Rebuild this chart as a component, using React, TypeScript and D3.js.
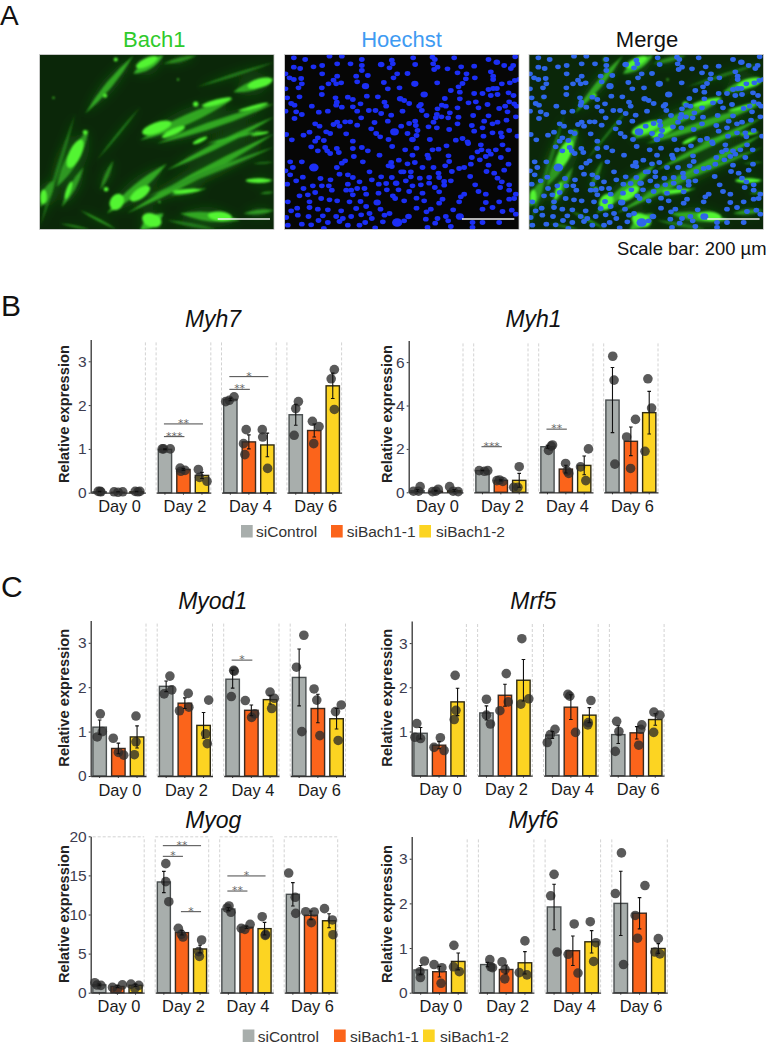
import { useEffect, useRef } from 'react';
import * as d3 from 'd3';

const days = ['Day 0', 'Day 2', 'Day 4', 'Day 6'];
const groups = ['siControl', 'siBach1-1', 'siBach1-2'];
const groupColors = ['#a8aeac', '#fb641b', '#fcd422'];
const groupStrokes = ['#4a4f50', '#3a2a20', '#2e2a14'];

type Dot = [number, number]; // value, jitter in bar widths
type Sig = [number, number, number, number, string]; // day, from bar, to bar, value, label

// bars run day by day, three per day
const myh7Means = [0.02, 0.01, 0.02, 0.99, 0.53, 0.395, 2.13, 1.16, 1.09, 1.78, 1.42, 2.44];
const myh7Errors = [0.01, 0.01, 0.01, 0.01, 0.02, 0.07, 0.03, 0.16, 0.27, 0.24, 0.15, 0.29];
const myh7Dots: Dot[][] = [
  [[0.03, -0.1], [0.03, 0.05], [0.02, 0.1]],
  [[0.02, -0.3], [0.02, 0.35], [0.01, 0]],
  [[0.03, -0.1], [0.02, 0.1], [0.03, 0.25]],
  [[1.0, -0.2], [1.0, -0.1], [1.0, 0.4]],
  [[0.56, -0.25], [0.49, -0.2], [0.51, 0.12]],
  [[0.53, -0.27], [0.35, -0.18], [0.26, 0.38]],
  [[2.08, -0.35], [2.11, -0.08], [2.19, 0.28]],
  [[1.44, -0.2], [1.12, -0.4], [0.87, -0.3]],
  [[1.44, -0.38], [1.27, -0.35], [0.555, 0.02]],
  [[2.08, 0.2], [1.92, 0], [1.31, -0.12]],
  [[1.63, -0.14], [1.51, 0.36], [1.12, -0.04]],
  [[2.81, 0.12], [2.6, -0.12], [1.9, 0.12]],
];
const myh7Sig: Sig[] = [
  [1, 0, 1, 1.28, '***'],
  [1, 0, 2, 1.57, '**'],
  [2, 0, 1, 2.36, '**'],
  [2, 0, 2, 2.65, '*'],
];

const myh1Means = [0.07, 0.05, 0.07, 1.0, 0.55, 0.55, 2.1, 1.07, 1.24, 4.25, 2.35, 3.67];
const myh1Errors = [0.06, 0.04, 0.06, 0.01, 0.03, 0.32, 0.07, 0.18, 0.43, 1.5, 0.66, 0.98];
const myh1Dots: Dot[][] = [
  [[0.26, 0.2], [0.05, -0.3], [0.05, 0.08]],
  [[0.14, 0.18], [0.03, -0.25], [0.05, 0]],
  [[0.26, -0.35], [0.05, -0.08], [0.03, 0.3]],
  [[1.0, -0.25], [0.97, 0.15], [1.0, 0.4]],
  [[0.54, -0.3], [0.57, -0.1], [0.5, 0.15]],
  [[1.18, 0], [0.23, -0.42], [0.23, -0.1]],
  [[2.18, 0.38], [1.93, 0.08], [2.13, 0.28]],
  [[1.33, -0.02], [0.87, 0.22], [0.98, 0.1]],
  [[2.0, 0.32], [1.17, -0.28], [0.54, 0.12]],
  [[6.27, 0.02], [5.17, 0.12], [1.3, 0.18]],
  [[3.36, 0.35], [2.55, -0.32], [1.1, -0.02]],
  [[5.23, -0.1], [3.88, 0.18], [1.89, -0.32]],
];
const myh1Sig: Sig[] = [
  [1, 0, 1, 2.1, '***'],
  [2, 0, 1, 2.91, '**'],
];

const myod1Means = [1.1, 0.62, 0.88, 2.02, 1.64, 1.14, 2.18, 1.48, 1.72, 2.22, 1.52, 1.29];
const myod1Errors = [0.16, 0.12, 0.25, 0.12, 0.12, 0.29, 0.2, 0.12, 0.1, 0.64, 0.32, 0.23];
const myod1Dots: Dot[][] = [
  [[1.4, 0.05], [1.0, 0.2], [0.88, -0.18]],
  [[0.85, -0.38], [0.53, 0], [0.47, 0.4]],
  [[1.35, -0.08], [0.77, -0.08], [0.48, -0.2]],
  [[2.25, 0.28], [1.94, 0.42], [1.85, -0.15]],
  [[1.86, 0.25], [1.55, 0.3], [1.47, -0.4]],
  [[1.71, 0.38], [0.95, 0.15], [0.73, 0.28]],
  [[2.38, 0.08], [2.36, 0.12], [1.79, -0.1]],
  [[1.7, -0.45], [1.4, 0.25], [1.32, 0.02]],
  [[1.89, 0], [1.75, 0.32], [1.52, 0.12]],
  [[3.17, 0.35], [2.45, -0.2], [1.0, 0.2]],
  [[1.96, -0.28], [1.71, -0.08], [0.91, 0.15]],
  [[1.6, 0.35], [1.45, -0.08], [0.8, 0.12]],
];
const myod1Sig: Sig[] = [[2, 0, 1, 2.61, '*']];

const mrf5Means = [0.96, 0.69, 1.67, 1.42, 1.82, 2.16, 0.92, 1.55, 1.37, 0.93, 0.97, 1.27];
const mrf5Errors = [0.13, 0.08, 0.31, 0.16, 0.25, 0.47, 0.08, 0.28, 0.17, 0.2, 0.14, 0.13];
const mrf5Dots: Dot[][] = [
  [[1.18, -0.28], [0.87, -0.42], [0.84, 0]],
  [[0.86, 0.1], [0.64, -0.38], [0.57, 0.38]],
  [[2.27, -0.18], [1.48, -0.12], [1.27, -0.25]],
  [[1.73, 0], [1.37, 0], [1.17, 0.3]],
  [[2.31, 0.1], [1.67, 0.25], [1.47, -0.38]],
  [[3.1, -0.12], [1.74, 0.4], [1.62, -0.2]],
  [[1.05, 0.2], [0.93, -0.15], [0.75, -0.38]],
  [[1.84, -0.22], [1.8, -0.08], [0.98, 0.35]],
  [[1.7, 0.12], [1.2, -0.08], [1.15, -0.12]],
  [[1.23, -0.12], [1.0, 0.05], [0.55, -0.22]],
  [[1.15, 0.38], [1.05, 0.3], [0.69, 0.15]],
  [[1.44, -0.1], [1.37, 0.35], [0.98, -0.12]],
];

const myogMeans = [1.0, 0.8, 0.95, 14.16, 7.68, 5.59, 10.7, 8.36, 8.19, 12.58, 9.9, 9.2];
const myogErrors = [0.12, 0.15, 0.15, 1.36, 0.3, 0.5, 0.2, 0.15, 0.8, 1.5, 0.55, 0.9];
const myogDots: Dot[][] = [
  [[1.28, -0.35], [0.98, -0.18], [0.94, 0.12]],
  [[0.68, -0.38], [0.43, 0], [1.0, 0.38]],
  [[1.1, -0.35], [0.55, -0.05], [0.94, 0.25]],
  [[16.5, 0.15], [14.2, 0.15], [11.64, 0.38]],
  [[8.23, -0.28], [7.46, -0.05], [7.12, 0.08]],
  [[6.74, 0.12], [5.25, -0.1], [4.65, -0.05]],
  [[11.09, 0.05], [10.83, -0.1], [10.28, 0.2]],
  [[8.23, -0.4], [8.1, -0.12], [8.74, 0.28]],
  [[9.72, -0.18], [7.46, 0.08], [7.33, 0.05]],
  [[15.3, -0.32], [12.2, 0.18], [10.15, 0.22]],
  [[10.36, -0.4], [10.32, 0.25], [8.96, 0.03]],
  [[10.75, -0.35], [9.3, 0.25], [7.42, 0.3]],
];
const myogSig: Sig[] = [
  [1, 0, 1, 17.44, '*'],
  [1, 0, 2, 18.8, '**'],
  [1, 1, 2, 10.36, '*'],
  [2, 0, 1, 13.0, '**'],
  [2, 0, 2, 14.93, '*'],
];

const myf6Means = [0.51, 0.47, 0.7, 0.63, 0.52, 0.67, 1.92, 0.94, 1.14, 2.0, 1.78, 0.99];
const myf6Errors = [0.1, 0.12, 0.19, 0.05, 0.1, 0.25, 0.51, 0.33, 0.25, 0.72, 0.35, 0.11];
const myf6Dots: Dot[][] = [
  [[0.71, 0.28], [0.47, -0.05], [0.34, -0.02]],
  [[0.63, -0.4], [0.56, 0.18], [0.21, 0.12]],
  [[1.06, -0.32], [0.58, -0.35], [0.47, 0.08]],
  [[0.74, 0.18], [0.58, 0.25], [0.56, 0.38]],
  [[0.69, -0.3], [0.52, -0.08], [0.31, -0.1]],
  [[1.16, 0], [0.45, -0.42], [0.4, 0.15]],
  [[2.65, 0], [2.17, -0.25], [0.91, 0.22]],
  [[1.54, 0.1], [0.86, -0.35], [0.44, 0.38]],
  [[1.59, -0.1], [1.12, 0.32], [0.7, 0.15]],
  [[3.13, 0.05], [2.22, -0.4], [0.63, 0.2]],
  [[2.4, 0.4], [1.73, -0.32], [1.22, -0.15]],
  [[1.21, 0], [0.91, -0.25], [0.87, 0.12]],
];

// Where each panel sits on the page
const panels = [
  { title: 'Myh7', means: myh7Means, errors: myh7Errors, dots: myh7Dots, sig: myh7Sig, ticks: [0, 1, 2, 3], max: 3.5, left: 90.7, facetW: 54.7, facetStep: 65.4, zero: 492.7, top: 339.4, titleX: 213, titleY: 327, labelX: 68.5, labelY: 414 },
  { title: 'Myh1', means: myh1Means, errors: myh1Errors, dots: myh1Dots, sig: myh1Sig, ticks: [0, 2, 4, 6], max: 7, left: 408.7, facetW: 54.3, facetStep: 65, zero: 492.3, top: 340.4, titleX: 533.5, titleY: 327, labelX: 391.7, labelY: 414 },
  { title: 'Myod1', means: myod1Means, errors: myod1Errors, dots: myod1Dots, sig: myod1Sig, ticks: [0, 1, 2, 3], max: 3.5, left: 90.7, facetW: 55.3, facetStep: 66.5, zero: 776, top: 620.6, titleX: 212.7, titleY: 609.3, labelX: 69, labelY: 697.7 },
  { title: 'Mrf5', means: mrf5Means, errors: mrf5Errors, dots: mrf5Dots, sig: [] as Sig[], ticks: [1, 2, 3], max: 3.5, left: 411.7, facetW: 54.7, facetStep: 65.9, zero: 775.7, top: 621, titleX: 533.3, titleY: 609.3, labelX: 391.7, labelY: 697.7 },
  { title: 'Myog', means: myogMeans, errors: myogErrors, dots: myogDots, sig: myogSig, ticks: [0, 5, 10, 15, 20], max: 20, left: 90.7, facetW: 53.5, facetStep: 64.5, zero: 992.7, top: 836.3, titleX: 213.3, titleY: 828.3, labelX: 69, labelY: 914, topDash: true },
  { title: 'Myf6', means: myf6Means, errors: myf6Errors, dots: myf6Dots, sig: [] as Sig[], ticks: [0, 1, 2, 3], max: 3.5, left: 411.7, facetW: 55.5, facetStep: 66.7, zero: 992.7, top: 836.4, titleX: 533.3, titleY: 828.3, labelX: 391.7, labelY: 914 },
];

const legends = [
  { y: 525, size: 12.5, swatchX: [241, 331, 419.3], textX: [256, 346.7, 436], textY: 537 },
  { y: 1029.5, size: 12.5, swatchX: [242.7, 334, 423], textX: [257.7, 350, 440], textY: 1041.5 },
];

// Micrographs. Cell outlines: x1, y1, x2, y2, width, brightness
const cells = [
  [255, 340, 400, 165, 22, 0.7], [400, 220, 490, 165, 30, 0.8], [490, 190, 590, 165, 15, 0.5],
  [590, 260, 822, 185, 10, 0.4], [700, 275, 822, 235, 30, 0.7], [420, 420, 700, 295, 32, 0.7],
  [470, 430, 822, 310, 24, 0.7], [500, 510, 822, 350, 20, 0.7], [620, 430, 790, 390, 10, 0.8],
  [170, 560, 265, 390, 40, 0.6], [120, 680, 225, 340, 12, 0.4], [290, 480, 420, 320, 8, 0.4],
  [320, 640, 500, 490, 30, 0.7], [380, 640, 822, 400, 26, 0.7], [440, 590, 822, 440, 16, 0.6],
  [185, 620, 250, 500, 22, 0.6], [300, 570, 340, 480, 14, 0.5], [510, 585, 620, 565, 12, 0.8],
  [740, 540, 822, 540, 12, 0.8], [120, 620, 160, 540, 30, 0.6], [420, 690, 490, 640, 34, 0.8],
  [540, 640, 720, 660, 30, 0.7], [730, 640, 822, 630, 16, 0.6], [240, 630, 350, 688, 8, 0.6],
  [180, 670, 270, 688, 6, 0.5], [500, 660, 650, 688, 12, 0.4], [780, 580, 822, 575, 8, 0.5],
  [760, 490, 822, 485, 6, 0.4],
];
// Brightest cell bodies: cx, cy, rx, ry, angle
const cellBodies = [
  [440, 185, 35, 12, -25], [780, 248, 38, 14, -15], [470, 382, 46, 16, -20], [225, 460, 18, 46, 25],
  [350, 605, 20, 26, 30], [420, 580, 35, 15, -35], [455, 660, 30, 20, 20], [660, 648, 36, 14, 5],
  [775, 541, 38, 7, 0], [560, 572, 42, 6, -5], [130, 590, 10, 22, 0], [205, 570, 7, 28, 20],
  [520, 395, 38, 9, -25], [650, 305, 46, 8, -15], [600, 420, 24, 6, -25], [760, 320, 46, 5, -15],
  [780, 400, 28, 4, -10],
];
const cellSpots = [
  [347, 177, 6], [315, 286, 6], [255, 396, 7], [587, 311, 8], [318, 567, 7], [534, 237, 3], [160, 292, 3], [478, 605, 3],
];

// Nuclei by image quarter: x, y, optional radius
const nucleiTopLeft = [
  [28,10],[62,15],[135,5],[172,5],[232,15],[158,28],[198,28],[232,33],[322,17],[290,30,9],[325,28],[315,40],[28,38],[47,42],[87,37],[113,33],[232,48],[113,58],[3,58],[158,65],[215,65],[250,63],[338,58],[15,70],[28,75],[50,72],[147,77],[218,82],[327,70],[52,88],[132,88],[155,88],[170,85],[298,84],[243,95,10],[42,100],[112,100],[310,103],[345,100],[3,103],[112,120],[45,127],[8,130],[153,130],[190,128],[205,135],[247,125],[280,127],[347,133,9],[157,143],[155,152],[300,143],[20,147],[30,152],[228,148],[172,158],[205,157],[82,155],[305,155],[3,170],[253,168],[273,168],[218,170],[103,173],[130,170],[290,177],[35,172],[52,180],[320,182],[30,192],[230,190],[158,203],[182,202],[197,202],[147,210],[270,204],[310,200],[92,208],[165,215],[105,215],[218,212],[350,215],[260,223],[330,232,12],[125,232],[137,237],[75,233],[57,242],[5,240],[275,237],[185,238],[287,247],[22,256],[100,250],[92,260],[118,258],[205,260],[312,255],
];
const nucleiTopRight = [
  [32,10],[38,30],[90,8],[97,15],[92,28],[105,38],[95,45],[155,10],[258,15],[283,23,9],[338,7],[305,33],[332,33],[325,42],[215,35],[176,37],[135,43],[15,57],[165,55],[265,52],[192,58],[272,65],[272,75],[217,70],[190,73],[180,87],[37,88,10],[104,85],[168,97],[298,88],[322,85],[337,78],[350,75],[145,108],[258,105],[272,102],[283,102],[65,120,10],[172,113],[215,117],[240,117],[265,123],[285,120],[318,115],[333,123],[127,132],[172,133],[5,138],[20,147],[55,150],[50,155],[118,152],[130,155],[105,163],[165,160],[198,145],[220,142,8],[228,160],[255,150],[290,162],[308,155],[320,142],[335,148],[342,155],[58,168],[103,180],[72,183],[142,175],[212,183],[258,184],[315,172],[100,190],[117,187],[137,190],[168,188],[0,170],[38,200],[20,207],[93,203],[312,197],[340,187],[245,200],[285,203],[40,213],[165,208],[208,213],[270,208],[78,217],[103,220],[140,225],[240,220],[45,228],[215,230],[270,235],[295,235],[320,228],[15,237],[42,243],[243,245],[345,245],[298,247],[30,255,9],[82,255,8],[160,257],[180,252],[195,262],
];
const nucleiBottomLeft = [
  [80,13],[122,15],[128,25],[100,25],[157,18],[205,18],[232,15],[250,25],[323,12],[137,33],[163,30],[208,42],[285,38],[182,55],[172,62],[52,58],[17,58],[235,58],[343,53],[320,60],[88,75,13],[25,75],[157,75],[312,70],[322,72],[3,85],[255,88],[165,95],[17,97],[190,97],[55,104],[108,108],[138,112],[205,105],[290,103],[35,115],[262,112],[322,105],[350,88],[8,125],[85,130],[112,130],[133,130],[190,125],[225,118],[335,122,9],[283,125],[305,123],[57,138],[92,150],[142,143],[185,143],[200,143],[218,138],[240,138],[307,142],[342,142],[45,160],[70,157],[205,157],[245,155],[282,152],[325,160],[332,168],[110,168],[135,172],[158,175],[10,178],[75,178],[228,177],[195,178],[278,180,10],[38,197],[100,200],[75,195],[130,202],[288,200],[215,198,8],[245,192],[20,205],[170,205],[255,213],[230,217],[315,213],[300,218],[5,225],[40,218],[72,222],[115,220],[155,222],[175,228],[200,222],[262,228],[102,234],[165,237],[295,238],[338,240,14],[242,240],[52,245],[80,247],[130,240],[190,248],[225,248],[10,248],[272,256],[118,258],
];
const nucleiBottomRight = [
  [132,10],[8,22],[42,17],[90,22],[108,20],[197,3],[235,7],[237,22],[280,22],[300,7],[317,22],[225,28],[258,25],[30,38],[75,38],[78,47],[138,40],[208,45],[265,35],[250,42],[295,45],[232,52],[140,57],[15,64],[37,60],[205,65],[128,70],[258,68],[318,65],[60,75],[93,75],[170,78],[185,75],[3,88],[25,88],[148,87],[252,87],[275,92],[305,83],[108,92],[25,103],[52,107],[80,105],[110,105],[203,102],[285,107],[10,115],[125,117],[145,115],[80,122],[298,118],[30,130],[55,127],[218,127],[320,127],[97,135],[125,128],[293,135],[20,147],[60,152],[110,148],[228,147],[250,155],[320,143],[340,155],[185,155],[175,163],[42,167],[120,170],[5,175],[65,175],[170,178],[110,182],[250,180],[290,178],[320,170],[335,168],[42,197],[152,202],[240,200],[270,195],[85,200],[72,208],[300,207],[328,203],[340,215],[18,222,9],[172,222,11],[130,222],[70,230],[105,228],[5,235],[137,235],[210,240],[240,240],[290,240],[98,242],[145,252],[75,255],[210,255],
];

const images = [
  { title: 'Bach1', color: '#2fca2b', x: 39.5, titleX: 154.3, green: true, blue: false, barX: 217.7 },
  { title: 'Hoechst', color: '#3f9bf2', x: 284.5, titleX: 401.5, green: false, blue: true, barX: 462 },
  { title: 'Merge', color: '#111', x: 529, titleX: 647, green: true, blue: true, barX: 707.3 },
];
const imageW = 234.5;
const imageH = 175;
const sans = '"Liberation Sans", Arial, sans-serif';

function spindle(x1: number, y1: number, x2: number, y2: number, w: number) {
  const mx = (x1 + x2) / 2;
  const my = (y1 + y2) / 2;
  const len = Math.hypot(x2 - x1, y2 - y1);
  const nx = (-(y2 - y1) / len) * w;
  const ny = ((x2 - x1) / len) * w;
  const p = d3.path();
  p.moveTo(x1, y1);
  p.quadraticCurveTo(mx + nx, my + ny, x2, y2);
  p.quadraticCurveTo(mx - nx, my - ny, x1, y1);
  p.closePath();
  return p.toString();
}

export default function App() {
  const svgRef = useRef<SVGSVGElement>(null);

  useEffect(() => {
    const svg = svgRef.current;
    if (!svg) return;
    const root = d3.select(svg);
    root.selectAll('*').remove();

    const defs = root.append('defs');
    defs.append('filter').attr('id', 'blur-cell').append('feGaussianBlur').attr('stdDeviation', 0.9);
    defs.append('filter').attr('id', 'blur-glow').append('feGaussianBlur').attr('stdDeviation', 5);
    defs.append('filter').attr('id', 'blur-nuc').append('feGaussianBlur').attr('stdDeviation', 0.3);
    defs
      .append('clipPath')
      .attr('id', 'image-clip')
      .append('rect')
      .attr('width', imageW)
      .attr('height', imageH);

    // Panel letters
    [['A', 0, 25, 28], ['B', 1, 316, 30], ['C', 1, 597, 30]].forEach(([t, x, y, size]) => {
      root
        .append('text')
        .attr('x', x as number)
        .attr('y', y as number)
        .attr('font-family', sans)
        .attr('font-size', size as number)
        .attr('fill', '#111')
        .text(t as string);
    });

    // Micrographs
    const cellX = d3.scaleLinear().domain([118, 822]).range([0, imageW]);
    const cellY = d3.scaleLinear().domain([162, 688]).range([0, imageH]);
    const quarters: [number[][], number, number][] = [
      [nucleiTopLeft, 0, 0],
      [nucleiTopRight, 118, 0],
      [nucleiBottomLeft, 0, 88],
      [nucleiBottomRight, 118, 88],
    ];
    const nuclei = quarters.flatMap(([list, ox, oy]) =>
      list.map((n) => ({ x: ox + n[0] / 3, y: oy + n[1] / 3, r: (n[2] ?? 7.8) / 3 }))
    );
    const cellColor = d3.interpolateRgb('#123f0e', '#3fd42c');

    images.forEach((im) => {
      root
        .append('text')
        .attr('x', im.titleX)
        .attr('y', 46.7)
        .attr('text-anchor', 'middle')
        .attr('font-family', sans)
        .attr('font-size', 22)
        .attr('fill', im.color)
        .text(im.title);

      const g = root.append('g').attr('transform', `translate(${im.x},54.5)`);
      const inner = g.append('g').attr('clip-path', 'url(#image-clip)');
      inner
        .append('rect')
        .attr('width', imageW)
        .attr('height', imageH)
        .attr('fill', im.green ? '#0b2709' : '#060606');

      if (im.green) {
        inner
          .append('g')
          .attr('filter', 'url(#blur-glow)')
          .selectAll('path')
          .data(cells)
          .join('path')
          .attr('d', (c) => spindle(cellX(c[0]), cellY(c[1]), cellX(c[2]), cellY(c[3]), (c[4] / 3) * 2))
          .attr('fill', '#1b7413')
          .attr('opacity', 0.4);
        const bright = inner.append('g').attr('filter', 'url(#blur-cell)');
        bright
          .selectAll('path')
          .data(cells)
          .join('path')
          .attr('d', (c) => spindle(cellX(c[0]), cellY(c[1]), cellX(c[2]), cellY(c[3]), (c[4] / 3) * 0.9))
          .attr('fill', (c) => cellColor(c[5]));
        bright
          .selectAll('ellipse')
          .data(cellBodies)
          .join('ellipse')
          .attr('rx', (c) => c[2] / 3)
          .attr('ry', (c) => c[3] / 3)
          .attr('transform', (c) => `translate(${cellX(c[0])},${cellY(c[1])}) rotate(${c[4]})`)
          .attr('fill', '#52f532');
        bright
          .selectAll('circle')
          .data(cellSpots)
          .join('circle')
          .attr('cx', (c) => cellX(c[0]))
          .attr('cy', (c) => cellY(c[1]))
          .attr('r', (c) => c[2] / 3)
          .attr('fill', '#52f532');
      }

      if (im.blue) {
        inner
          .append('g')
          .attr('filter', 'url(#blur-nuc)')
          .selectAll('ellipse')
          .data(nuclei)
          .join('ellipse')
          .attr('cx', (d) => d.x)
          .attr('cy', (d) => d.y)
          .attr('rx', (d) => d.r * 1.1)
          .attr('ry', (d) => d.r * 0.92)
          .attr('fill', im.green ? '#2d66ea' : '#1a2ff5');
      }

      g.append('rect')
        .attr('width', imageW)
        .attr('height', imageH)
        .attr('fill', 'none')
        .attr('stroke', '#c9c9c9')
        .attr('stroke-width', 0.8);
      g.append('line')
        .attr('x1', im.barX - im.x)
        .attr('x2', im.barX - im.x + 52.3)
        .attr('y1', 164.5)
        .attr('y2', 164.5)
        .attr('stroke', '#eee')
        .attr('stroke-width', 1.6);
    });

    root
      .append('text')
      .attr('x', 766.5)
      .attr('y', 255)
      .attr('text-anchor', 'end')
      .attr('font-family', sans)
      .attr('font-size', 18.4)
      .attr('fill', '#111')
      .text('Scale bar: 200 µm');

    // Bar panels
    panels.forEach((p) => {
      const g = root.append('g');
      const y = d3.scaleLinear().domain([0, p.max]).range([p.zero, p.top]);
      const total = p.facetStep * 3 + p.facetW;
      const dayScale = d3
        .scaleBand<string>()
        .domain(days)
        .range([p.left, p.left + total])
        .paddingInner((p.facetStep - p.facetW) / p.facetStep)
        .paddingOuter(0);
      const barScale = d3
        .scaleBand<string>()
        .domain(groups)
        .range([0, p.facetW])
        .paddingInner(0.28)
        .paddingOuter(0.118);
      const bw = barScale.bandwidth();

      g.append('text')
        .attr('x', p.titleX)
        .attr('y', p.titleY)
        .attr('text-anchor', 'middle')
        .attr('font-family', sans)
        .attr('font-style', 'italic')
        .attr('font-size', 23)
        .attr('fill', '#111')
        .text(p.title);

      g.append('text')
        .attr('transform', `translate(${p.labelX},${p.labelY}) rotate(-90)`)
        .attr('text-anchor', 'middle')
        .attr('font-family', sans)
        .attr('font-weight', 700)
        .attr('font-size', 14.7)
        .attr('fill', '#222')
        .text('Relative expression');

      days.forEach((day, di) => {
        const fx = dayScale(day) as number;
        const facet = g.append('g').attr('transform', `translate(${fx},0)`);

        // Dashed facet edges
        const dashed = [p.facetW];
        if (di > 0) dashed.push(0);
        facet
          .selectAll('.edge')
          .data(dashed)
          .join('line')
          .attr('class', 'edge')
          .attr('x1', (d) => d)
          .attr('x2', (d) => d)
          .attr('y1', p.top + 3)
          .attr('y2', p.zero)
          .attr('stroke', '#c6c6c6')
          .attr('stroke-width', 0.8)
          .attr('stroke-dasharray', '3,2');
        if (p.topDash) {
          facet
            .append('line')
            .attr('x1', di === 0 ? 2 : 0)
            .attr('x2', p.facetW)
            .attr('y1', p.top + 0.5)
            .attr('y2', p.top + 0.5)
            .attr('stroke', '#c6c6c6')
            .attr('stroke-width', 0.8)
            .attr('stroke-dasharray', '3,2');
        }

        const rows = groups.map((grp, gi) => {
          const i = di * 3 + gi;
          return {
            grp,
            gi,
            mean: p.means[i],
            err: p.errors[i],
            dots: p.dots[i],
            cx: (barScale(grp) as number) + bw / 2,
          };
        });

        facet
          .selectAll('.bar')
          .data(rows)
          .join('rect')
          .attr('class', 'bar')
          .attr('x', (d) => barScale(d.grp) as number)
          .attr('y', (d) => y(d.mean))
          .attr('width', bw)
          .attr('height', (d) => p.zero - y(d.mean))
          .attr('fill', (d) => groupColors[d.gi])
          .attr('stroke', (d) => groupStrokes[d.gi])
          .attr('stroke-width', 1.4);

        rows.forEach((r) => {
          facet
            .selectAll(`.dot-${r.gi}`)
            .data(r.dots)
            .join('circle')
            .attr('class', `dot-${r.gi}`)
            .attr('cx', (d) => r.cx + d[1] * bw)
            .attr('cy', (d) => y(d[0]))
            .attr('r', 4.8)
            .attr('fill', '#2b2b2b')
            .attr('fill-opacity', 0.78);

          const path = d3.path();
          path.moveTo(r.cx, y(r.mean - r.err));
          path.lineTo(r.cx, y(r.mean + r.err));
          path.moveTo(r.cx - 1.8, y(r.mean + r.err));
          path.lineTo(r.cx + 1.8, y(r.mean + r.err));
          path.moveTo(r.cx - 1.8, y(r.mean - r.err));
          path.lineTo(r.cx + 1.8, y(r.mean - r.err));
          facet
            .append('path')
            .attr('d', path.toString())
            .attr('fill', 'none')
            .attr('stroke', '#111')
            .attr('stroke-width', 1.1);
        });

        // Baseline of the facet with its bar ticks
        facet
          .append('g')
          .attr('transform', `translate(0,${p.zero})`)
          .call(d3.axisBottom(barScale).tickSize(2).tickSizeOuter(0).tickFormat(() => ''))
          .call((sel) => {
            sel.select('.domain').attr('stroke', '#333').attr('stroke-width', 1.3);
            sel.selectAll('.tick line').attr('stroke', '#333');
          });
      });

      // Day labels
      g.append('g')
        .attr('transform', `translate(1.5,${p.zero})`)
        .call(d3.axisBottom(dayScale).tickSize(0).tickPadding(8))
        .call((sel) => {
          sel.select('.domain').remove();
          sel
            .selectAll('.tick text')
            .attr('font-family', sans)
            .attr('font-size', 16.4)
            .attr('fill', '#1a1a1a');
        });

      // Y-axis
      g.append('g')
        .attr('transform', `translate(${p.left},0)`)
        .call(d3.axisLeft(y).tickValues(p.ticks).tickSize(2).tickSizeOuter(0).tickPadding(2).tickFormat(d3.format('d')))
        .call((sel) => {
          sel.select('.domain').attr('stroke', '#333').attr('stroke-width', 1.3);
          sel.selectAll('.tick line').attr('stroke', '#333');
          sel
            .selectAll('.tick text')
            .attr('font-family', sans)
            .attr('font-size', 15.5)
            .attr('fill', '#3c3c50');
        });

      // Significance lines
      p.sig.forEach(([di, a, b, v, label]) => {
        const fx = dayScale(days[di]) as number;
        const x1 = fx + (barScale(groups[a]) as number) + bw / 2 - 1;
        const x2 = fx + (barScale(groups[b]) as number) + bw / 2 + 1;
        g.append('line')
          .attr('x1', x1)
          .attr('x2', x2)
          .attr('y1', y(v))
          .attr('y2', y(v))
          .attr('stroke', '#333')
          .attr('stroke-width', 0.9);
        g.append('text')
          .attr('x', (x1 + x2) / 2)
          .attr('y', y(v) + 3)
          .attr('text-anchor', 'middle')
          .attr('font-family', '"DejaVu Sans", sans-serif')
          .attr('font-size', 10.8)
          .attr('fill', '#666')
          .text(label);
      });
    });

    // Legends
    legends.forEach((l) => {
      const g = root.append('g');
      groups.forEach((grp, i) => {
        g.append('rect')
          .attr('x', l.swatchX[i])
          .attr('y', l.y)
          .attr('width', 11.7)
          .attr('height', l.size)
          .attr('fill', groupColors[i]);
        g.append('text')
          .attr('x', l.textX[i])
          .attr('y', l.textY)
          .attr('font-family', sans)
          .attr('font-size', 15.5)
          .attr('fill', '#333')
          .text(grp);
      });
    });
  }, []);

  return (
    <svg
      ref={svgRef}
      width={767}
      height={1043}
      style={{ position: 'absolute', left: 0, top: 0, display: 'block', background: '#fff' }}
    />
  );
}
